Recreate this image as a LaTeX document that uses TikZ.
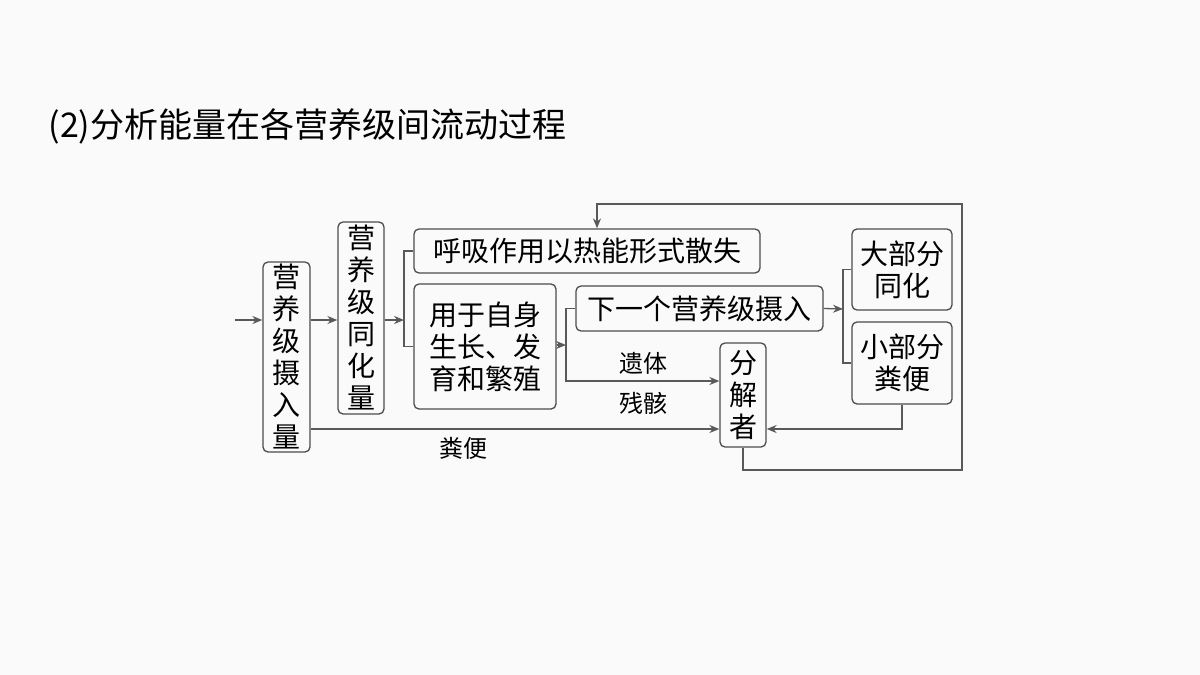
\documentclass[tikz,border=0pt]{standalone}
\usepackage{fontspec}
\newfontfamily\cjk{Noto Sans CJK SC}
\usetikzlibrary{arrows.meta}
\begin{document}
\begin{tikzpicture}[x=1pt,y=-1pt,
  bx/.style={draw=black!70,line width=1.3pt,rounded corners=5pt,inner sep=0pt,font=\cjk\fontsize{28}{32}\selectfont,align=center},
  ln/.style={draw=black!65,line width=1.3pt},
  ar/.style={ln,-{Stealth[length=10pt,width=8pt]}}]
\fill[white!96!gray] (0,0) rectangle (1200,675);
\useasboundingbox (0,0) rectangle (1200,675);
\node[anchor=west,font=\cjk\fontsize{34}{40}\selectfont] (title) at (45,126) {(2)分析能量在各营养级间流动过程};
\node[bx,minimum width=47,minimum height=190] (a) at (286.5,357) {营\\养\\级\\摄\\入\\量};
\node[bx,minimum width=46,minimum height=192] (b) at (361,318) {营\\养\\级\\同\\化\\量};
\node[bx,minimum width=346,minimum height=44] (c) at (587,251) {呼吸作用以热能形式散失};
\node[bx,minimum width=142,minimum height=125] (d) at (485,346.5) {用于自身\\生长、发\\育和繁殖};
\node[bx,minimum width=247,minimum height=45] (e) at (699.5,308.5) {下一个营养级摄入};
\node[bx,minimum width=46,minimum height=104] (f) at (743,395) {分\\解\\者};
\node[bx,minimum width=100,minimum height=81] (g) at (902,269.5) {大部分\\同化};
\node[bx,minimum width=100,minimum height=82] (h) at (902,363) {小部分\\粪便};
\coordinate (in) at (235,320);
\draw[ar] (in) -- (a.west |- in);
\draw[ar] (a.east |- in) -- (b.west |- in);
\coordinate (j1) at (404,320);
\draw[ar] (b.east |- j1) -- (j1);
\draw[ln] (c.west) -| (j1) |- (d.west);
\coordinate (j2) at (566,345);
\draw[ar] (d.east |- j2) -- (j2);
\draw[ln] (e.west) -| (j2);
\coordinate (j3) at (566,381);
\draw[ar] (j2) -- (j3) -- (f.west |- j3);
\node[font=\cjk\fontsize{24}{28}\selectfont] (l1) at (643,363) {遗体};
\node[font=\cjk\fontsize{24}{28}\selectfont] (l2) at (643,403) {残骸};
\coordinate (j4) at (843,309);
\draw[ar] (e.east) -- (j4);
\draw[ln] (g.west) -| (j4) |- (h.west);
\coordinate (k) at (903,429);
\draw[ar] (h.south) |- (f.east |- k);
\draw[ar] (a.east |- k) -- (f.west |- k);
\node[font=\cjk\fontsize{24}{28}\selectfont] (l3) at (463,448) {粪便};
\coordinate (r1) at (962,470);
\coordinate (r2) at (597,204);
\draw[ar] (f.south) |- (r1) |- (r2) -- (c.north -| r2);
\end{tikzpicture}
\end{document}
